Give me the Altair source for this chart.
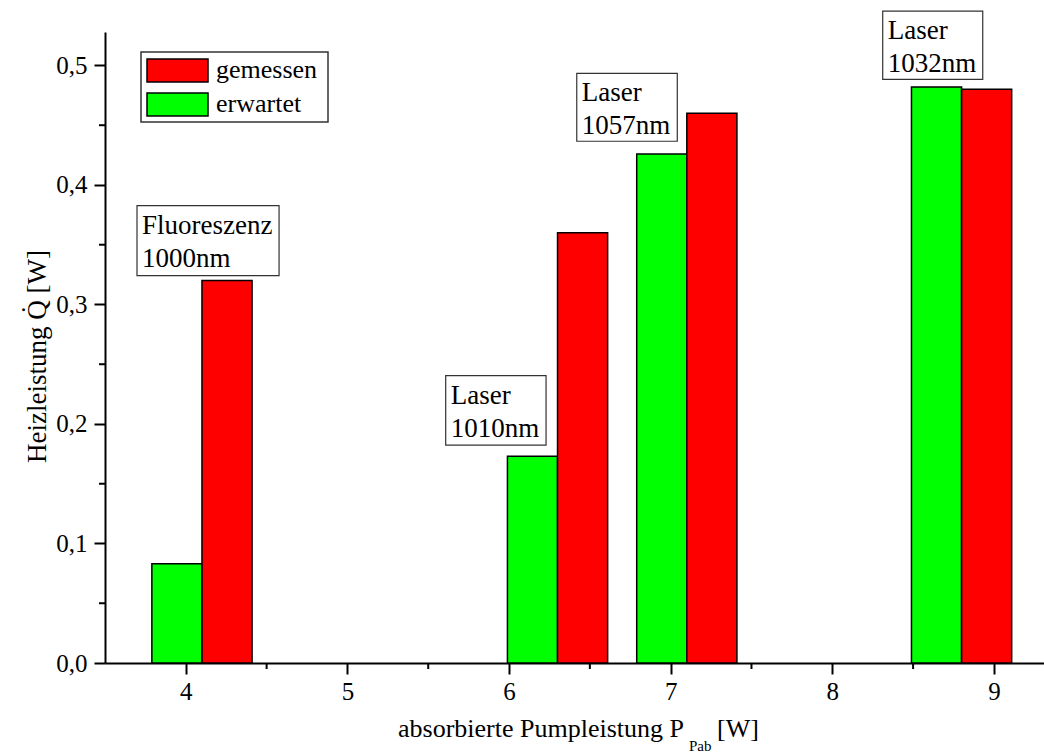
import altair as alt
import pandas as pd

# ---- data ----
pump = [4.1, 6.3, 7.1, 8.8]              # absorbierte Pumpleistung (group position)
gemessen = [0.32, 0.36, 0.46, 0.48]      # measured heat load
erwartet = [0.083, 0.173, 0.426, 0.482]  # expected heat load
series = ["gemessen", "erwartet"]
colors = ["#ff0000", "#00ff00"]

x_ticks = [4, 5, 6, 7, 8, 9]
x_minor = [4.5, 5.5, 6.5, 7.5, 8.5]
y_ticks = [0.0, 0.1, 0.2, 0.3, 0.4, 0.5]
y_minor = [0.05, 0.15, 0.25, 0.35, 0.45]

ann_text = ["Fluoreszenz\n1000nm", "Laser\n1010nm", "Laser\n1057nm", "Laser\n1032nm"]
ann_x0 = [3.698, 5.608, 6.419, 8.312]
ann_x1 = [4.577, 6.229, 7.041, 8.931]
ann_y0 = [0.3827, 0.2404, 0.4933, 0.5455]
ann_y1 = [0.3241, 0.1823, 0.4366, 0.4883]

BAR_W = 0.31
FONT = "Liberation Serif"

rows = []
for p, g, e in zip(pump, gemessen, erwartet):
    rows.append({"series": "erwartet", "x0": p - BAR_W, "x1": p, "val": e})
    rows.append({"series": "gemessen", "x0": p, "x1": p + BAR_W, "val": g})
bars_df = pd.DataFrame(rows)

xscale = alt.Scale(domain=[3.5, 9.31], nice=False, zero=False)
yscale = alt.Scale(domain=[0, 0.528], nice=False, zero=False)

xaxis = alt.Axis(values=x_ticks, format="d", tickSize=11, tickWidth=2, tickColor="black",
                 domainColor="black", domainWidth=2, labelFont=FONT, labelFontSize=25,
                 labelColor="black", labelPadding=5, grid=False, title=None, labelFlush=False)
yaxis = alt.Axis(values=y_ticks, labelExpr="replace(format(datum.value, '.1f'), '.', ',')",
                 tickSize=11, tickWidth=2, tickColor="black", domainColor="black", domainWidth=2,
                 labelFont=FONT, labelFontSize=25, labelColor="black", labelPadding=7,
                 grid=False, title="Heizleistung Q\u0307 [W]", titleFont=FONT, titleFontSize=27,
                 titleFontWeight="normal", titleColor="black", titleX=-54, titleY=324)

YT = "Heizleistung Q\u0307 [W]"

bars = alt.Chart(bars_df).mark_rect(stroke="black", strokeWidth=1.5).encode(
    x=alt.X("x0:Q", scale=xscale, axis=xaxis, title=None),
    x2="x1:Q",
    y=alt.Y("val:Q", scale=yscale, axis=yaxis, title=YT),
    y2=alt.datum(0),
    color=alt.Color("series:N", scale=alt.Scale(domain=series, range=colors), legend=None),
)

ymin_df = pd.DataFrame({"v": y_minor})
ymin = alt.Chart(ymin_df).mark_rule(color="black", strokeWidth=2).encode(
    y=alt.Y("v:Q", scale=yscale, axis=yaxis, title=YT), x=alt.value(-6), x2=alt.value(0))
xmin_df = pd.DataFrame({"v": x_minor})
xmin = alt.Chart(xmin_df).mark_rule(color="black", strokeWidth=2).encode(
    x=alt.X("v:Q", scale=xscale, axis=xaxis, title=None), y=alt.value(631), y2=alt.value(637))

ann_df = pd.DataFrame({"t": ann_text, "x0": ann_x0, "x1": ann_x1, "y0": ann_y0, "y1": ann_y1})
ann_box = alt.Chart(ann_df).mark_rect(fill="white", stroke="#333333", strokeWidth=1.2).encode(
    x=alt.X("x0:Q", scale=xscale, axis=xaxis, title=None), x2="x1:Q",
    y=alt.Y("y0:Q", scale=yscale, axis=yaxis, title=YT), y2="y1:Q")
ann_txt = alt.Chart(ann_df).mark_text(align="left", baseline="alphabetic", font=FONT,
                                      fontSize=27, lineHeight=33, lineBreak="\n", dx=5, dy=28,
                                      color="black").encode(
    x=alt.X("x0:Q", scale=xscale, axis=xaxis, title=None),
    y=alt.Y("y0:Q", scale=yscale, axis=yaxis, title=YT),
    text="t:N")

one = pd.DataFrame({"a": [0]})
legend_layers = [
    alt.Chart(one).mark_rect(fill="white", stroke="#333333", strokeWidth=1.5).encode(
        x=alt.value(36), x2=alt.value(223), y=alt.value(20), y2=alt.value(90))
]
for i, (lab, col) in enumerate(zip(series, colors)):
    top = 27 + i * 34
    legend_layers.append(
        alt.Chart(one).mark_rect(fill=col, stroke="black", strokeWidth=1.5).encode(
            x=alt.value(42), x2=alt.value(103), y=alt.value(top), y2=alt.value(top + 23)))
    legend_layers.append(
        alt.Chart(one).mark_text(align="left", baseline="middle", font=FONT, fontSize=26,
                                 color="black", text=lab).encode(
            x=alt.value(111), y=alt.value(top + 11)))

xt_main = alt.Chart(one).mark_text(align="right", baseline="alphabetic", font=FONT, fontSize=26,
                                   color="black", text="absorbierte Pumpleistung P").encode(
    x=alt.value(579), y=alt.value(705))
xt_sub = alt.Chart(one).mark_text(align="left", baseline="alphabetic", font=FONT, fontSize=15,
                                  color="black", text="Pab").encode(
    x=alt.value(584), y=alt.value(719))
xt_unit = alt.Chart(one).mark_text(align="left", baseline="alphabetic", font=FONT, fontSize=26,
                                   color="black", text="[W]").encode(
    x=alt.value(612), y=alt.value(705))

chart = alt.layer(bars, ymin, xmin, ann_box, ann_txt, *legend_layers, xt_main, xt_sub, xt_unit).properties(
    width=939, height=631,
    autosize=alt.AutoSizeParams(type="none"),
    padding={"left": 105, "top": 32, "right": 0, "bottom": 91},
    background="white",
).configure_view(stroke=None)

chart.save("out.html", embed_options={"renderer": "svg", "actions": False})
